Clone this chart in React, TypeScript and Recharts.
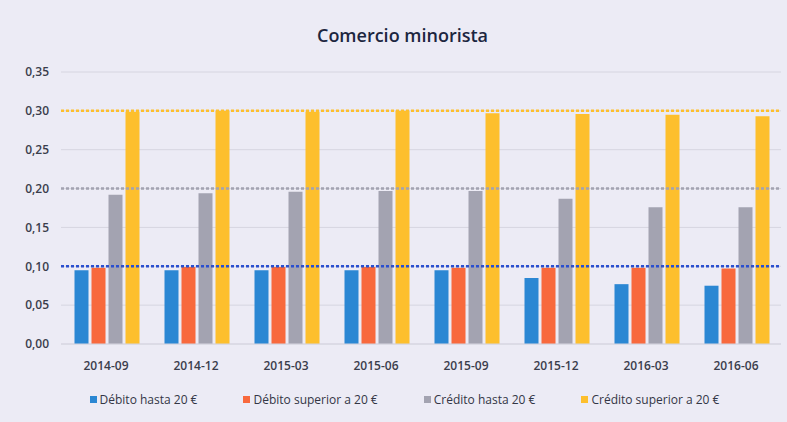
import React from 'react';
import { BarChart, Bar, XAxis, YAxis, CartesianGrid, ReferenceLine, Legend } from 'recharts';

const periods = ['2014-09', '2014-12', '2015-03', '2015-06', '2015-09', '2015-12', '2016-03', '2016-06'];
const debitoHasta = [0.095, 0.095, 0.095, 0.095, 0.095, 0.085, 0.077, 0.075];
const debitoSuperior = [0.098, 0.099, 0.099, 0.099, 0.098, 0.098, 0.098, 0.097];
const creditoHasta = [0.192, 0.194, 0.196, 0.197, 0.197, 0.187, 0.176, 0.176];
const creditoSuperior = [0.299, 0.3, 0.299, 0.3, 0.297, 0.296, 0.295, 0.293];
const yTicks = [0, 0.05, 0.1, 0.15, 0.2, 0.25, 0.3, 0.35];
const limits = [0.1, 0.2, 0.3];

const SERIES = [
  { key: 'debitoHasta', name: 'Débito hasta 20 €', color: '#2b87d3' },
  { key: 'debitoSuperior', name: 'Débito superior a 20 €', color: '#f8693d' },
  { key: 'creditoHasta', name: 'Crédito hasta 20 €', color: '#a3a3b1' },
  { key: 'creditoSuperior', name: 'Crédito superior a 20 €', color: '#fdbf2d' },
];
const LIMIT_COLORS = ['#2a4fcf', '#a3a3b1', '#fdbf2d'];

const data = periods.map((p, i) => ({
  period: p,
  debitoHasta: debitoHasta[i],
  debitoSuperior: debitoSuperior[i],
  creditoHasta: creditoHasta[i],
  creditoSuperior: creditoSuperior[i],
}));

const FONT = '"Open Sans", "Noto Sans", sans-serif';

const renderLegend = () => (
  <div style={{ display: 'flex', justifyContent: 'center', gap: 46, fontFamily: FONT, fontSize: 12, color: '#333645', paddingLeft: 28, paddingTop: 13 }}>
    {SERIES.map(s => (
      <span key={s.key} style={{ display: 'flex', alignItems: 'center' }}>
        <span style={{ width: 7, height: 7, background: s.color, marginRight: 3, display: 'inline-block' }} />
        {s.name}
      </span>
    ))}
  </div>
);

export default function App() {
  return (
    <div style={{ position: 'absolute', left: 0, top: 0, width: 787, height: 422, background: '#ecebf5' }}>
      <div style={{ position: 'absolute', top: 23, left: 0, width: 787, textAlign: 'center', paddingLeft: 18, boxSizing: 'border-box', fontFamily: FONT, fontSize: 18, fontWeight: 600, color: '#1c2640' }}>
        Comercio minorista
      </div>
      <BarChart width={787} height={422} data={data} margin={{ top: 72, right: 6, bottom: 8, left: 0 }} barCategoryGap="15%" barGap={3}>
        <CartesianGrid vertical={false} stroke="#d6d5e0" />
        <XAxis dataKey="period" axisLine={{ stroke: '#d6d5e0' }} tickLine={false} tickSize={0} tickMargin={17} height={34}
          tick={{ fontFamily: FONT, fontSize: 12, fill: '#3a3d4c', fontWeight: 600 }} />
        <YAxis domain={[0, 0.35]} ticks={yTicks} width={61} axisLine={false} tickLine={false} tickSize={0} tickMargin={12}
          tickFormatter={(v: number) => v.toFixed(2).replace('.', ',')}
          tick={{ fontFamily: FONT, fontSize: 12, fill: '#3a3d4c', fontWeight: 600 }} />
        <Legend verticalAlign="bottom" height={36} content={renderLegend} />
        {SERIES.map(s => (
          <Bar key={s.key} dataKey={s.key} name={s.name} fill={s.color} isAnimationActive={false} />
        ))}
        {limits.map((l, i) => (
          <ReferenceLine key={l} y={l} stroke={LIMIT_COLORS[i]} strokeWidth={2.5} strokeDasharray="3 2" />
        ))}
      </BarChart>
    </div>
  );
}
